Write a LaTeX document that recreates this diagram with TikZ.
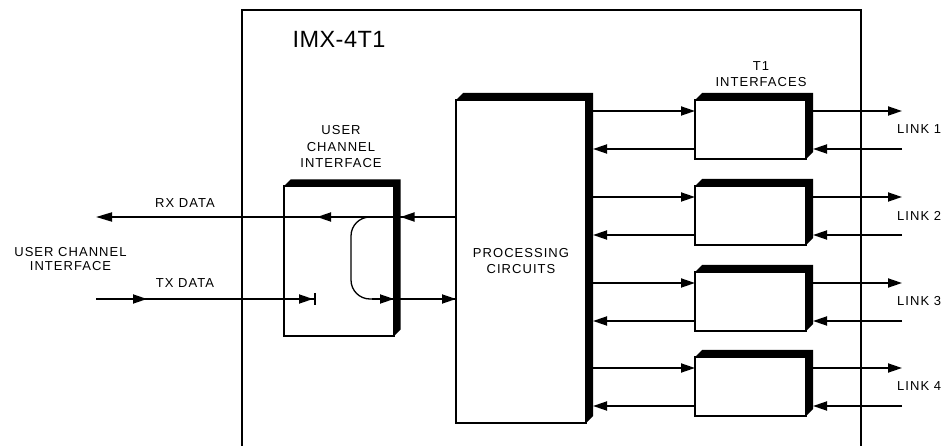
\documentclass[tikz,border=0pt]{standalone}
\usepackage{fontspec}
\setmainfont{Liberation Sans}[LetterSpace=8]
\newfontfamily\titlefont{Liberation Sans}[LetterSpace=2]
\usetikzlibrary{arrows.meta,calc}
\newcommand\dropshade[2]{\fill (#1.north west) -- ++(#2,-#2) -- ($(#1.north east)+(#2,-#2)$) -- ($(#1.south east)+(#2,-#2)$) -- (#1.south east) -- (#1.north east) -- cycle;}
\begin{document}
\begin{tikzpicture}[x=1pt,y=-1pt,
  box/.style={draw, line width=1.8pt, fill=white, inner sep=0pt, outer sep=0pt, anchor=north west},
  frame/.style={line width=2.4pt},
  conn/.style={line width=1.8pt},
  thin/.style={line width=1.3pt},
  tip/.style={-{Triangle[length=14pt,width=9pt]}},
  lbl/.style={font=\fontsize{13}{16}\selectfont, inner sep=0pt, align=center},
  ttl/.style={font=\titlefont\fontsize{23.5}{26}\selectfont, inner sep=0pt}]
\useasboundingbox (0,0) rectangle (948,446);
% frame
\draw[frame] (242,446) -- (242,10) -- (861,10) -- (861,446);
\node[ttl] (title) at (339,39) {IMX-4T1};
% user channel interface box
\node[box, minimum width=110, minimum height=150] (uci) at (284,186) {};
\dropshade{uci}{6.5}
\node[lbl, font=\fontsize{13}{16.5}\selectfont] (ucil) at (341,147) {USER\\CHANNEL\\INTERFACE};
% processing
\node[box, minimum width=130, minimum height=323, lbl] (proc) at (456,100) {PROCESSING\\CIRCUITS};
\dropshade{proc}{7}
\coordinate (procR) at ($(proc.north east)+(7,0)$);
% left labels
\node[lbl, font=\fontsize{13}{14.5}\selectfont] (ucl) at (70.5,259) {USER CHANNEL\\INTERFACE};
\node[lbl] (rxl) at (185,203) {RX DATA};
\node[lbl] (txl) at (185,283) {TX DATA};
% RX line
\coordinate (rxend) at (96,217);
\coordinate (txstart) at (96,299);
\draw[conn, -{Triangle[length=16pt,width=9pt]}] (proc.west |- rxend) -- (rxend);
\draw[conn, tip] (331,217) -- (317,217);
\draw[conn, tip] (415,217) -- (400.5,217);
% TX line
\coordinate (txbar) at (315,299);
\draw[conn] (txstart) -- (txbar);
\draw[conn, tip] (132,299) -- (147,299);
\draw[conn, tip] (299,299) -- (313,299);
\draw[thin] (315,293) -- (315,305);
% loopback
\draw[thin, rounded corners=19pt] (385,217) -- (351,217) -- (351,299) -- (380,299);
\draw[conn] (372,299) -- (proc.west |- txstart);
\draw[conn, tip] (379,299) -- (uci.east |- txstart);
\draw[conn, tip] (441,299) -- (proc.west |- txstart);
% T1 interfaces
\node[lbl] (t1l) at (761,74.5) {T1\\INTERFACES};
\coordinate (linkX) at (902,0);
\foreach \i/\t in {1/100,2/186,3/272,4/357} {
  \node[box, minimum width=111, minimum height=59] (t\i) at (695,\t) {};
  \dropshade{t\i}{7}
  \coordinate (o\i) at (0,\t+11);
  \coordinate (n\i) at (0,\t+49);
  \draw[conn, tip] (procR |- o\i) -- (t\i.west |- o\i);
  \draw[conn, tip] (t\i.west |- n\i) -- (procR |- n\i);
  \draw[conn, tip] (t\i.east |- o\i) -- (linkX |- o\i);
  \draw[conn, tip] (linkX |- n\i) -- ($(t\i.east |- n\i)+(7,0)$);
  \node[lbl, anchor=west] (lk\i) at (897,\t+29.5) {LINK \i};
}
\end{tikzpicture}
\end{document}
